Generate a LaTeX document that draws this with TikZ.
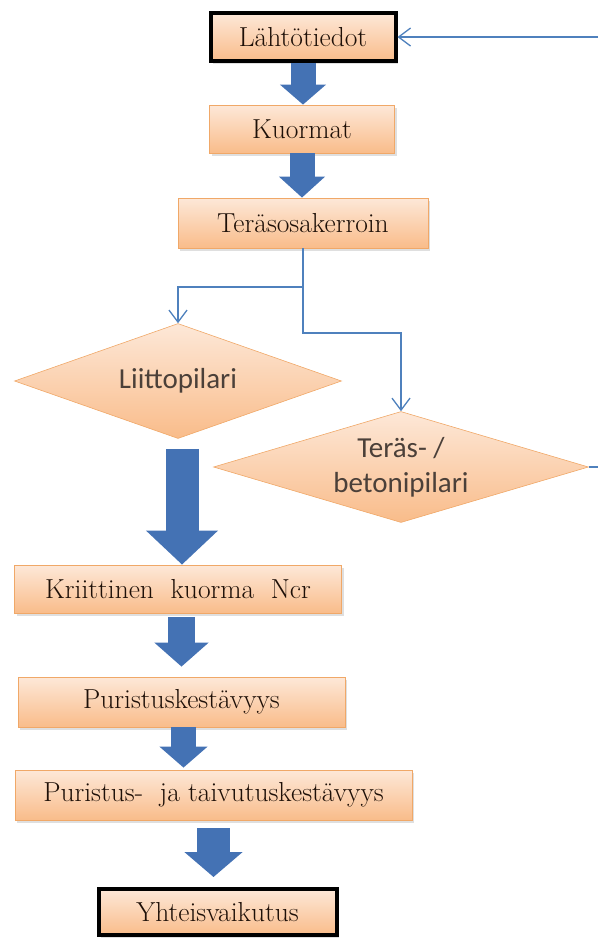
\documentclass[tikz,border=0pt]{standalone}
\usepackage{fontspec}
\newfontfamily\calfont{Carlito}
\usepackage{xcolor}
\usepackage{tikz}
\usetikzlibrary{arrows.meta,positioning,shapes.geometric,shadows}
\definecolor{peachtop}{HTML}{FDE8D8}
\definecolor{peachbot}{HTML}{F9BC8A}
\definecolor{peachln}{HTML}{F0A868}
\definecolor{flowc}{HTML}{4472B4}
\definecolor{linec}{HTML}{4F81BD}
\definecolor{inkc}{HTML}{1E1008}
\tikzset{
  box/.style={draw=peachln,line width=0.8pt,top color=peachtop,bottom color=peachbot,
    minimum height=48pt,inner sep=0pt,text=inkc,font=\rmfamily\fontsize{27.5}{32}\selectfont,
    drop shadow={shadow xshift=2pt,shadow yshift=-3pt,opacity=0.25}},
  endbox/.style={box,draw=black,line width=4pt},
  dia/.style={diamond,draw=peachln,line width=0.6pt,top color=peachtop,bottom color=peachbot,
    inner sep=0pt,align=center,text=inkc!80,font=\calfont\fontsize{29}{35}\selectfont},
  link/.style={-{Straight Barb[length=12pt,width=18pt]},linec,line width=1.3pt},
  blk/.style args={#1/#2/#3}{-{Triangle[length=#3,width=#2]},flowc,line width=#1}
}
\begin{document}
\begin{tikzpicture}[x=1pt,y=-1pt]
\useasboundingbox (0,0) rectangle (598,938);
\node[endbox,minimum width=185pt] (lahto) at (303,37) {Lähtötiedot};
\node[box,minimum width=185pt] (kuorm) at (302,129) {Kuormat};
\node[box,minimum width=250pt,minimum height=50pt] (teras) at (303,223) {Teräsosakerroin};
\node[dia,minimum width=327pt,minimum height=115pt,aspect=2.84] (liitto) at (178,381) {Liittopilari};
\node[dia,minimum width=375pt,minimum height=111pt,aspect=3.38] (tbp) at (401,467) {Teräs- /\\betonipilari};
\node[box,minimum width=327pt] (ncr) at (178,589) {Kriittinen\ \ kuorma\ \ Ncr};
\node[box,minimum width=327pt,minimum height=50pt] (pur) at (181.5,702) {Puristuskestävyys};
\node[box,minimum width=397pt,minimum height=50pt] (purtai) at (213.5,795) {Puristus-\ \ ja taivutuskestävyys};
\node[endbox,minimum width=238pt,minimum height=46pt] (yht) at (217.5,912) {Yhteisvaikutus};
% thin connectors
\coordinate (back) at (598,37);
\coordinate (tbpout) at (598,467);
\coordinate (sp1) at (303,287);
\coordinate (sp2) at (303,333);
\draw[link] (back) -- (lahto.east);
\draw[link] (teras.south) -- (sp1) -| (liitto.north);
\draw[link] (sp1) -- (sp2) -| (tbp.north);
\draw[linec,line width=1.3pt] (tbp.east) -- (tbpout);
% block arrows
\draw[blk=25pt/45pt/20pt] (lahto.south) -- (lahto.south |- kuorm.north);
\draw[blk=25pt/45pt/21pt] (kuorm.south) -- (kuorm.south |- teras.north);
\draw[blk=33pt/70pt/34pt,shorten <=10pt] ([xshift=4pt]liitto.south) -- ([xshift=4pt]liitto.south |- ncr.north);
\draw[blk=27pt/53pt/24pt,shorten <=4pt,shorten >=10pt] (ncr.south -| pur.north) -- (pur.north);
\draw[blk=25pt/47pt/21pt,shorten >=2pt] ([xshift=2pt]pur.south) -- ([xshift=2pt]pur.south |- purtai.north);
\draw[blk=33pt/57pt/25pt,shorten <=8pt,shorten >=10pt] (purtai.south) -- (purtai.south |- yht.north);
\end{tikzpicture}
\end{document}
